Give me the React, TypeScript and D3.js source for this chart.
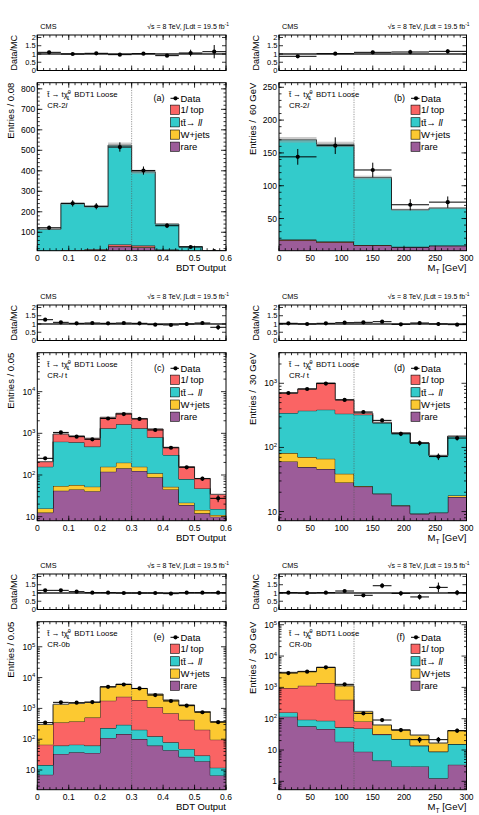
import { useEffect, useRef } from "react";
import * as d3 from "d3";

const FONT = "'Liberation Sans', Arial, Helvetica, sans-serif";
const COLORS: Record<string, string> = { onelep: "#fa6464", ttll: "#33cbcb", wjets: "#fcc931", rare: "#9c5c99" };

// bin edges
const bdt8 = [0, 0.075, 0.15, 0.225, 0.3, 0.375, 0.45, 0.525, 0.6];
const bdt12 = [0, 0.05, 0.1, 0.15, 0.2, 0.25, 0.3, 0.35, 0.4, 0.45, 0.5, 0.55, 0.6];
const mt60 = [0, 60, 120, 180, 240, 300];
const mt30 = [0, 30, 60, 90, 120, 150, 180, 210, 240, 270, 300];

// (a) CR-2l, BDT
const aRare = [5, 8, 12, 30, 27, 12, 4, 2];
const aWjets = [1, 1, 1, 2, 2, 1, 0.5, 0.2];
const aOnelep = [3, 4, 4, 8, 6, 3, 1, 0.5];
const aTtll = [106, 227, 208, 485, 360, 124, 24.5, 7.3];
const aData = [122, 241, 227, 516, 401, 132, 28, 8];
const aRatio = [1.1, 1.0, 1.04, 0.96, 1.02, 0.9, 1.06, 1.14];

// (b) CR-2l, MT
const bRare = [16.5, 13.5, 9, 6.5, 8.5];
const bWjets = [0.5, 0.5, 0.3, 0.2, 0.2];
const bOnelep = [1, 1, 0.5, 0.3, 0.3];
const bTtll = [152, 148, 102.7, 56.5, 57];
const bData = [144, 161, 124, 71, 75];
const bRatio = [0.86, 1.02, 1.1, 1.12, 1.16];

// (c) CR-lt, BDT
const cRare = [12.5, 42, 45, 41, 120, 145, 125, 88, 45, 19, 12, 10];
const cWjets = [3.3, 12.5, 12.5, 11.5, 38, 53, 33, 22, 7, 2.7, 2.5, 1];
const cTtll = [142, 577, 551, 427, 1160, 1446, 1160, 692, 250, 58, 33, 4.3];
const cOnelep = [51, 329, 255, 280, 1103, 1376, 952, 468, 159, 78, 35, 19];
const cData = [251, 1050, 832, 718, 2270, 2900, 2210, 1202, 450, 153, 81.5, 27.5];
const cRatio = [1.26, 1.1, 1.04, 1.06, 1.04, 1.06, 1.04, 0.96, 0.94, 1.0, 1.06, 0.8];

// (d) CR-lt, MT
const dRare = [60.5, 49.3, 46, 28.4, 24.5, 18.9, 12.3, 9.2, 9.6, 16.8];
const dWjets = [21, 21.3, 20.6, 10.4, 0.5, 0.3, 0.2, 0.1, 0.1, 1];
const dTtll = [262.5, 303.4, 321.4, 297.2, 299, 220.8, 154.5, 107.7, 64.3, 130.7];
const dOnelep = [362, 441, 622, 220, 20, 6, 2, 1, 1, 1.5];
const dData = [706, 815, 990, 550, 357, 264, 163, 117, 72, 140];
const dRatio = [1.04, 1.0, 1.04, 1.08, 1.1, 1.14, 0.98, 1.06, 1.0, 0.96];

// (e) CR-0b, BDT
const eRare = [7.06, 33.4, 37.8, 36, 110, 147, 101, 62, 43.9, 26.8, 19.4, 6.7];
const eTtll = [7.4, 28.6, 28.9, 26, 119, 146, 102, 62, 35.5, 21.6, 10.1, 5.2];
const eOnelep = [52.2, 286, 308, 443, 1551, 2097, 1663, 961, 618, 377, 174, 85];
const eWjets = [233, 1012, 1085, 1065, 3230, 3720, 2564, 1825, 1169, 865, 584, 278];
const eData = [345, 1570, 1530, 1600, 5000, 5950, 4430, 2700, 1740, 1228, 750, 357];
const eRatio = [1.16, 1.16, 1.08, 1.02, 1.02, 1.0, 1.0, 1.0, 0.96, 1.02, 1.02, 1.02];

// (f) CR-0b, MT
const fRare = [116, 57, 46.8, 18.5, 8.85, 4.6, 3.0, 3.0, 1.25, 3.4];
const fTtll = [43, 36, 39.2, 34.3, 40.15, 26.4, 19.4, 10.7, 7.6, 12.1];
const fOnelep = [793, 1037, 1289, 351, 33, 1.4, 0.2, 0.1, 0.05, 0.1];
const fWjets = [2063, 2110, 2975, 716, 89, 30.6, 20.9, 16.2, 7.8, 25.8];
const fData = [2870, 3160, 4350, 1250, 148, 90.6, 43.5, 21.4, 21.4, 41.4];
const fRatio = [1.02, 1.0, 1.02, 1.12, 0.86, 1.44, 0.98, 0.76, 1.34, 1.02];

type Part = { t: string; it?: boolean; sup?: boolean; sub?: boolean; dx?: number };

const panels = [
  { id: "a", edges: bdt8, rare: aRare, wjets: aWjets, onelep: aOnelep, ttll: aTtll, data: aData, ratio: aRatio,
    order: ["rare", "wjets", "onelep", "ttll"], log: false, yDomain: [10, 830], yMajor: d3.range(100, 801, 100), yMinor: 20,
    region: [{ t: "CR-2" }, { t: "l", it: true }], col: 0, row: 0, yTitle: "Entries / 0.08" },
  { id: "b", edges: mt60, rare: bRare, wjets: bWjets, onelep: bOnelep, ttll: bTtll, data: bData, ratio: bRatio,
    order: ["rare", "wjets", "onelep", "ttll"], log: false, yDomain: [1, 257], yMajor: d3.range(50, 251, 50), yMinor: 10,
    region: [{ t: "CR-2" }, { t: "l", it: true }], col: 1, row: 0, yTitle: "Entries /  60 GeV" },
  { id: "c", edges: bdt12, rare: cRare, wjets: cWjets, onelep: cOnelep, ttll: cTtll, data: cData, ratio: cRatio,
    order: ["rare", "wjets", "ttll", "onelep"], log: true, yDomain: [8, 8.6e4],
    region: [{ t: "CR-" }, { t: "l", it: true }, { t: " t" }], col: 0, row: 1, yTitle: "Entries / 0.05" },
  { id: "d", edges: mt30, rare: dRare, wjets: dWjets, onelep: dOnelep, ttll: dTtll, data: dData, ratio: dRatio,
    order: ["rare", "wjets", "ttll", "onelep"], log: true, yDomain: [7.2, 3000],
    region: [{ t: "CR-" }, { t: "l", it: true }, { t: " t" }], col: 1, row: 1, yTitle: "Entries /  30 GeV" },
  { id: "e", edges: bdt12, rare: eRare, wjets: eWjets, onelep: eOnelep, ttll: eTtll, data: eData, ratio: eRatio,
    order: ["rare", "ttll", "onelep", "wjets"], log: true, yDomain: [2.3, 6.5e5],
    region: [{ t: "CR-0b" }], col: 0, row: 2, yTitle: "Entries / 0.05" },
  { id: "f", edges: mt30, rare: fRare, wjets: fWjets, onelep: fOnelep, ttll: fTtll, data: fData, ratio: fRatio,
    order: ["rare", "ttll", "onelep", "wjets"], log: true, yDomain: [0.54, 1.25e5],
    region: [{ t: "CR-0b" }], col: 1, row: 2, yTitle: "Entries /  30 GeV" },
];

function rich(text: any, parts: Part[], fs: number) {
  let shift = 0;
  parts.forEach(pt => {
    const target = pt.sup ? -0.38 * fs : pt.sub ? 0.3 * fs : 0;
    const ts = text.append("tspan").text(pt.t);
    if (target !== shift) ts.attr("dy", target - shift);
    if (pt.dx) ts.attr("dx", pt.dx);
    shift = target;
    if (pt.sup || pt.sub) ts.attr("font-size", fs * 0.7);
    if (pt.it) ts.attr("font-style", "italic");
  });
}

function drawPanel(root: any, p: any) {
  const x0 = p.col === 0 ? 37.3 : 279;
  const x1 = p.col === 0 ? 226 : 466.5;
  const off = [0, 270, 539][p.row];
  const rTop = off + 35, rBot = off + 70.5;
  const mTop = off + 82.7, mBot = off + 250.7;
  const isBdt = p.edges[p.edges.length - 1] < 1;
  const nb = p.edges.length - 1;

  const g = root.append("g");
  const x = d3.scaleLinear().domain([p.edges[0], p.edges[nb]]).range([x0, x1]);
  const y: any = p.log
    ? d3.scaleLog().domain(p.yDomain).range([mBot, mTop])
    : d3.scaleLinear().domain(p.yDomain).range([mBot, mTop]);
  const yr = d3.scaleLinear().domain([0, 2.15]).range([rBot, rTop]);
  const safe = (v: number) => (p.log ? Math.max(v, p.yDomain[0] * 0.3) : v);

  const clipId = `clip-${p.id}`;
  g.append("clipPath").attr("id", clipId).append("rect")
    .attr("x", x0).attr("y", mTop).attr("width", x1 - x0).attr("height", mBot - mTop);
  const body = g.append("g").attr("clip-path", `url(#${clipId})`);

  // stacked histograms
  let cum: number[] = new Array(nb).fill(0);
  p.order.forEach((key: string) => {
    const vals: number[] = p[key];
    const lo = cum.slice();
    const hi = cum.map((c, i) => c + vals[i]);
    const pts = d3.range(nb).flatMap(i => [[p.edges[i], lo[i], hi[i]], [p.edges[i + 1], lo[i], hi[i]]]);
    body.append("path").datum(pts)
      .attr("d", d3.area<number[]>().x(d => x(d[0])).y0(d => y(safe(d[1]))).y1(d => y(safe(d[2]))))
      .attr("fill", COLORS[key]);
    body.append("path").datum(pts)
      .attr("d", d3.line<number[]>().x(d => x(d[0])).y(d => y(safe(d[2]))))
      .attr("fill", "none").attr("stroke", "#111").attr("stroke-width", 0.9);
    cum = hi;
  });

  // MC uncertainty band
  cum.forEach((t, i) => {
    body.append("rect")
      .attr("x", x(p.edges[i])).attr("width", x(p.edges[i + 1]) - x(p.edges[i]))
      .attr("y", y(t * 1.025)).attr("height", Math.max(0.8, y(t * 0.975) - y(t * 1.025)))
      .attr("fill", "#999").attr("opacity", 0.5);
  });

  // cut line
  const cut = isBdt ? 0.3 : 120;
  g.append("line").attr("x1", x(cut)).attr("x2", x(cut)).attr("y1", mTop).attr("y2", mBot)
    .attr("stroke", "#555").attr("stroke-width", 0.6).attr("stroke-dasharray", "1.2,1.2");

  // data points
  p.data.forEach((d: number, i: number) => {
    const cx = x((p.edges[i] + p.edges[i + 1]) / 2);
    const e = Math.sqrt(d);
    body.append("line").attr("x1", x(p.edges[i])).attr("x2", x(p.edges[i + 1])).attr("y1", y(d)).attr("y2", y(d))
      .attr("stroke", "#000").attr("stroke-width", 1);
    body.append("line").attr("x1", cx).attr("x2", cx).attr("y1", y(safe(d - e))).attr("y2", y(d + e))
      .attr("stroke", "#000").attr("stroke-width", 1);
    body.append("circle").attr("cx", cx).attr("cy", y(d)).attr("r", 2.1).attr("fill", "#000");
  });

  // x ticks (main + ratio)
  const xMajor = isBdt ? d3.range(0, 0.601, 0.1) : d3.range(0, 301, 50);
  const xMinor = isBdt ? d3.range(0, 0.601, 0.02) : d3.range(0, 301, 10);
  const tick = (xa: number, ya: number, xb: number, yb: number) =>
    g.append("line").attr("x1", xa).attr("x2", xb).attr("y1", ya).attr("y2", yb).attr("stroke", "#000").attr("stroke-width", 0.8);
  [[mTop, mBot], [rTop, rBot]].forEach(([t, b]) => {
    xMinor.forEach(v => { tick(x(v), b, x(v), b - 2.5); tick(x(v), t, x(v), t + 2.5); });
    xMajor.forEach(v => { tick(x(v), b, x(v), b - 5); tick(x(v), t, x(v), t + 5); });
  });

  // y ticks main
  const fsTick = 8.5;
  const addYLabel = (v: number, parts: Part[]) => {
    const t = g.append("text").attr("x", x0 - 2).attr("y", y(v) + 3).attr("text-anchor", "end")
      .attr("font-size", fsTick).attr("font-family", FONT);
    rich(t, parts, fsTick);
  };
  if (p.log) {
    const [lmin, lmax] = p.yDomain.map((v: number) => Math.log10(v));
    for (let dec = Math.floor(lmin); dec <= Math.ceil(lmax); dec++) {
      for (let m = 1; m <= 9; m++) {
        const v = m * Math.pow(10, dec);
        if (v < p.yDomain[0] || v > p.yDomain[1]) continue;
        const len = m === 1 ? 5 : 2.5;
        tick(x0, y(v), x0 + len, y(v));
        tick(x1, y(v), x1 - len, y(v));
        if (m === 1) {
          if (dec === 0) addYLabel(v, [{ t: "1" }]);
          else if (dec === 1) addYLabel(v, [{ t: "10" }]);
          else addYLabel(v, [{ t: "10" }, { t: String(dec), sup: true }]);
        }
      }
    }
  } else {
    d3.range(p.yMinor, p.yDomain[1], p.yMinor).filter(v => v >= p.yDomain[0]).forEach(v => {
      tick(x0, y(v), x0 + 2.5, y(v));
      tick(x1, y(v), x1 - 2.5, y(v));
    });
    p.yMajor.forEach((v: number) => {
      tick(x0, y(v), x0 + 5, y(v));
      tick(x1, y(v), x1 - 5, y(v));
      addYLabel(v, [{ t: String(v) }]);
    });
  }

  // frames
  g.append("rect").attr("x", x0).attr("y", mTop).attr("width", x1 - x0).attr("height", mBot - mTop)
    .attr("fill", "none").attr("stroke", "#000").attr("stroke-width", 1);

  // x tick labels & title
  xMajor.forEach(v => {
    g.append("text").attr("x", x(v)).attr("y", mBot + 10.5).attr("text-anchor", "middle")
      .attr("font-size", fsTick).attr("font-family", FONT).text(isBdt ? d3.format(".1~f")(v) : String(v));
  });
  const xt = g.append("text").attr("x", x1).attr("y", mBot + 20.5).attr("text-anchor", "end")
    .attr("font-size", 9.5).attr("font-family", FONT);
  if (isBdt) xt.text("BDT Output");
  else rich(xt, [{ t: "M" }, { t: "T", sub: true }, { t: " [GeV]" }], 9.5);

  g.append("text").attr("transform", `translate(${x0 - 23},${mTop}) rotate(-90)`).attr("text-anchor", "end")
    .attr("font-size", 9.5).attr("font-family", FONT).style("white-space", "pre").text(p.yTitle);

  // ratio panel
  const rclip = `rclip-${p.id}`;
  g.append("clipPath").attr("id", rclip).append("rect")
    .attr("x", x0).attr("y", rTop).attr("width", x1 - x0).attr("height", rBot - rTop);
  const rb = g.append("g").attr("clip-path", `url(#${rclip})`);
  p.ratio.forEach((r: number, i: number) => {
    rb.append("rect").attr("x", x(p.edges[i])).attr("width", x(p.edges[i + 1]) - x(p.edges[i]))
      .attr("y", yr(1.05)).attr("height", yr(0.95) - yr(1.05)).attr("fill", "#aaa");
  });
  rb.append("line").attr("x1", x0).attr("x2", x1).attr("y1", yr(1)).attr("y2", yr(1)).attr("stroke", "#000").attr("stroke-width", 1);
  p.ratio.forEach((r: number, i: number) => {
    const cx = x((p.edges[i] + p.edges[i + 1]) / 2);
    const e = r / Math.sqrt(p.data[i]);
    rb.append("line").attr("x1", x(p.edges[i])).attr("x2", x(p.edges[i + 1])).attr("y1", yr(r)).attr("y2", yr(r))
      .attr("stroke", "#000").attr("stroke-width", 1);
    rb.append("line").attr("x1", cx).attr("x2", cx).attr("y1", yr(r - e)).attr("y2", yr(r + e))
      .attr("stroke", "#000").attr("stroke-width", 1);
    rb.append("circle").attr("cx", cx).attr("cy", yr(r)).attr("r", 2.1).attr("fill", "#000");
  });
  [0, 0.5, 1, 1.5, 2].forEach(v => {
    tick(x0, yr(v), x0 + 4, yr(v));
    tick(x1, yr(v), x1 - 4, yr(v));
    g.append("text").attr("x", x0 - 1.5).attr("y", yr(v) + 2.6).attr("text-anchor", "end")
      .attr("font-size", 7.5).attr("font-family", FONT).text(String(v));
  });
  g.append("rect").attr("x", x0).attr("y", rTop).attr("width", x1 - x0).attr("height", rBot - rTop)
    .attr("fill", "none").attr("stroke", "#000").attr("stroke-width", 1);
  g.append("text").attr("transform", `translate(${x0 - 20},${(rTop + rBot) / 2}) rotate(-90)`).attr("text-anchor", "middle")
    .attr("font-size", 9).attr("font-family", FONT).text("Data/MC");

  // header
  g.append("text").attr("x", x0 + 3).attr("y", off + 28.5).attr("font-size", 7.3).attr("font-family", FONT).text("CMS");
  const hdr = g.append("text").attr("x", x1 + 3).attr("y", off + 28.5).attr("text-anchor", "end")
    .attr("font-size", 7).attr("font-family", FONT);
  rich(hdr, [{ t: "\u221As = 8 TeV,  \u222BLdt = 19.5 fb" }, { t: "-1", sup: true }], 7);

  // process label
  const fsL = 7.8;
  const pl = g.append("text").attr("x", x0 + 10).attr("y", mTop + 14.5).attr("font-size", fsL).attr("font-family", FONT);
  rich(pl, [{ t: "t\u0303 \u2192 t\u03C7\u0303" }, { t: "0", sup: true }, { t: "1", sub: true, dx: -4.3 }, { t: " BDT1 Loose", dx: 2.5 }], fsL);
  const rl = g.append("text").attr("x", x0 + 10).attr("y", mTop + 25.5).attr("font-size", fsL).attr("font-family", FONT);
  rich(rl, p.region, fsL);

  // legend
  const lx = x1 - 55.5;
  g.append("text").attr("x", x1 - 61.5).attr("y", mTop + 18.5).attr("text-anchor", "end")
    .attr("font-size", 9).attr("font-family", FONT).text(`(${p.id})`);
  g.append("line").attr("x1", lx).attr("x2", lx + 8.5).attr("y1", mTop + 15.6).attr("y2", mTop + 15.6).attr("stroke", "#000").attr("stroke-width", 1);
  g.append("circle").attr("cx", lx + 5).attr("cy", mTop + 15.6).attr("r", 2.1).attr("fill", "#000");
  g.append("text").attr("x", lx + 10).attr("y", mTop + 19).attr("font-size", 9.5).attr("font-family", FONT).text("Data");
  const entries: [string, Part[]][] = [
    ["onelep", [{ t: "1" }, { t: "l", it: true }, { t: " top" }]],
    ["ttll", [{ t: "tt\u0304\u2192 " }, { t: "ll", it: true }]],
    ["wjets", [{ t: "W+jets" }]],
    ["rare", [{ t: "rare" }]],
  ];
  const ys = [27, 39.6, 51.9, 64];
  entries.forEach(([k, parts], i) => {
    const cy = mTop + ys[i];
    g.append("rect").attr("x", lx).attr("y", cy - 4.6).attr("width", 9).attr("height", 9.2)
      .attr("fill", COLORS[k]).attr("stroke", "#000").attr("stroke-width", 0.6);
    const t = g.append("text").attr("x", lx + 10).attr("y", cy + 3.4).attr("font-size", 9.5).attr("font-family", FONT);
    rich(t, parts, 9.5);
  });
}

export default function App() {
  const svgRef = useRef<SVGSVGElement | null>(null);

  useEffect(() => {
    const svg = d3.select(svgRef.current);
    svg.selectAll("*").remove();
    svg.append("rect").attr("width", 479).attr("height", 815).attr("fill", "#fff");
    panels.forEach(p => drawPanel(svg, p));
  }, []);

  return (
    <svg ref={svgRef} width={479} height={815}
      style={{ position: "absolute", left: 0, top: 0, display: "block" }} />
  );
}
